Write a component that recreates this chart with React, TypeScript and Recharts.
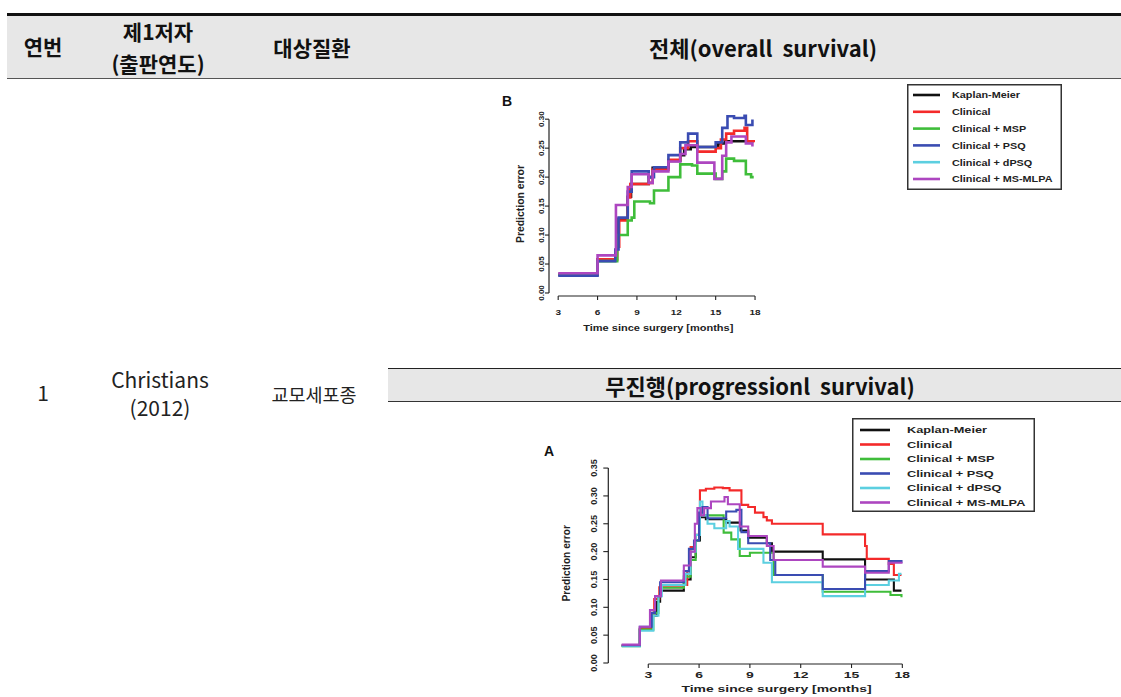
import { LineChart, Line, XAxis, YAxis, ReferenceLine } from 'recharts';

type Pt = [number, number];

// 전체 (overall survival), panel B — step curves [month, prediction error]
const osKaplanMeier: Pt[] = [[3.0, 0.032], [6.0, 0.058], [7.45, 0.08], [7.6, 0.128], [8.3, 0.166], [8.55, 0.188], [9.9, 0.2], [10.2, 0.216], [11.4, 0.228], [12.3, 0.238], [12.6, 0.248], [13.1, 0.252], [15.2, 0.258], [15.7, 0.262], [17.9, 0.262]];
const osClinical: Pt[] = [[3.0, 0.032], [6.0, 0.058], [7.5, 0.08], [7.65, 0.125], [8.3, 0.165], [8.5, 0.188], [9.9, 0.19], [10.2, 0.213], [11.4, 0.23], [12.3, 0.25], [12.9, 0.262], [13.6, 0.244], [15.0, 0.25], [15.4, 0.265], [15.8, 0.275], [16.4, 0.28], [17.2, 0.285], [17.4, 0.262], [17.9, 0.26]];
const osMSP: Pt[] = [[3.0, 0.032], [6.0, 0.055], [7.5, 0.1], [8.3, 0.125], [8.6, 0.13], [8.8, 0.158], [10.0, 0.155], [10.3, 0.177], [11.4, 0.2], [12.3, 0.222], [13.2, 0.22], [13.6, 0.206], [15.0, 0.197], [15.5, 0.21], [15.8, 0.232], [16.4, 0.228], [17.3, 0.205], [17.7, 0.2], [17.9, 0.2]];
const osPSQ: Pt[] = [[3.0, 0.03], [6.0, 0.055], [7.35, 0.075], [7.6, 0.13], [8.3, 0.175], [8.6, 0.21], [9.9, 0.2], [10.3, 0.217], [11.4, 0.238], [12.3, 0.26], [12.9, 0.275], [13.6, 0.252], [15.0, 0.26], [15.5, 0.285], [15.9, 0.305], [16.4, 0.302], [17.2, 0.306], [17.3, 0.29], [17.8, 0.297], [17.9, 0.297]];
const osDPSQ: Pt[] = []; // hidden under the other curves in the figure
const osMSMLPA: Pt[] = [[3.0, 0.034], [6.0, 0.065], [7.4, 0.152], [8.3, 0.183], [8.6, 0.205], [9.9, 0.19], [10.2, 0.21], [11.4, 0.227], [12.3, 0.24], [12.7, 0.255], [13.6, 0.225], [14.9, 0.197], [15.5, 0.237], [15.8, 0.26], [16.2, 0.27], [17.3, 0.258], [17.8, 0.255], [17.9, 0.255]];

// 무진행 (progression survival), panel A
const pfsKaplanMeier: Pt[] = [[1.43, 0.031], [2.5, 0.06], [3.2, 0.085], [3.5, 0.11], [3.7, 0.13], [5.1, 0.15], [5.5, 0.19], [5.8, 0.22], [6.05, 0.262], [6.4, 0.258], [7.6, 0.252], [8.45, 0.238], [8.9, 0.225], [10.0, 0.215], [10.3, 0.2], [13.3, 0.186], [15.8, 0.15], [17.5, 0.13], [17.95, 0.13]];
const pfsClinical: Pt[] = [[1.43, 0.032], [2.5, 0.062], [3.15, 0.087], [3.35, 0.115], [3.65, 0.136], [5.1, 0.14], [5.3, 0.165], [5.5, 0.208], [5.8, 0.23], [6.05, 0.31], [6.4, 0.313], [6.9, 0.315], [7.4, 0.314], [7.8, 0.31], [8.5, 0.284], [8.9, 0.28], [9.3, 0.27], [9.8, 0.262], [10.0, 0.256], [10.3, 0.25], [13.3, 0.231], [15.8, 0.21], [15.9, 0.187], [17.2, 0.178], [17.5, 0.158], [17.95, 0.158]];
const pfsMSP: Pt[] = [[1.43, 0.03], [2.5, 0.06], [3.3, 0.09], [3.6, 0.12], [3.75, 0.135], [5.1, 0.155], [5.5, 0.185], [5.8, 0.22], [6.0, 0.265], [6.4, 0.265], [7.45, 0.234], [7.9, 0.222], [8.4, 0.192], [9.0, 0.198], [10.4, 0.158], [13.3, 0.128], [17.3, 0.122], [17.95, 0.118]];
const pfsPSQ: Pt[] = [[1.43, 0.032], [2.5, 0.065], [3.2, 0.09], [3.4, 0.12], [3.7, 0.145], [5.1, 0.165], [5.4, 0.205], [5.7, 0.22], [6.0, 0.27], [6.2, 0.28], [6.5, 0.26], [7.6, 0.272], [8.2, 0.275], [8.5, 0.235], [8.9, 0.215], [9.8, 0.215], [10.2, 0.185], [10.5, 0.158], [13.3, 0.133], [15.8, 0.165], [17.2, 0.183], [17.95, 0.18]];
const pfsDPSQ: Pt[] = [[1.43, 0.03], [2.5, 0.058], [3.3, 0.085], [3.6, 0.12], [3.8, 0.14], [5.2, 0.16], [5.5, 0.2], [5.8, 0.23], [6.05, 0.29], [6.2, 0.265], [6.5, 0.25], [6.9, 0.242], [7.6, 0.255], [7.8, 0.245], [8.3, 0.205], [8.6, 0.205], [9.8, 0.18], [10.3, 0.145], [13.3, 0.12], [15.8, 0.14], [17.2, 0.148], [17.8, 0.16], [17.95, 0.16]];
const pfsMSMLPA: Pt[] = [[1.43, 0.033], [2.5, 0.065], [3.1, 0.095], [3.4, 0.12], [3.75, 0.148], [5.1, 0.175], [5.5, 0.2], [5.75, 0.25], [5.9, 0.278], [6.1, 0.265], [6.3, 0.278], [6.7, 0.29], [7.5, 0.298], [7.7, 0.285], [8.4, 0.245], [8.9, 0.228], [10.0, 0.21], [10.4, 0.185], [13.3, 0.173], [15.8, 0.162], [17.2, 0.18], [17.95, 0.178]];

const seriesNames = ['Kaplan-Meier', 'Clinical', 'Clinical + MSP', 'Clinical + PSQ', 'Clinical + dPSQ', 'Clinical + MS-MLPA'];
const seriesColors = ['#111111', '#f42a2a', '#3fbd3a', '#3a4cb2', '#5ccfe0', '#ad46c0'];
const monthTicks = [3, 6, 9, 12, 15, 18];
const osErrorTicks = [0, 0.05, 0.1, 0.15, 0.2, 0.25, 0.3];
const pfsErrorTicks = [0, 0.05, 0.1, 0.15, 0.2, 0.25, 0.3, 0.35];

const osCurves = [osKaplanMeier, osClinical, osMSP, osDPSQ, osPSQ, osMSMLPA];
const pfsCurves = [pfsKaplanMeier, pfsClinical, pfsMSP, pfsDPSQ, pfsPSQ, pfsMSMLPA];
const curveSeries = [0, 1, 2, 4, 3, 5]; // index into names/colors, in drawing order

const FONT = '"Liberation Sans", Arial, sans-serif';
const KFONT = '"Noto Sans CJK KR", "Noto Sans", sans-serif';

const rows = (pts: Pt[]) => pts.map(([month, error]) => ({ month, error }));

const osPanel = {
  left: 462, top: 88, width: 318, height: 262,
  margin: { top: 24, right: 18.4, bottom: 17, left: 29 },
  yAxisWidth: 58, xAxisHeight: 37,
  xDomain: [2.3, 18.5], yDomain: [-0.0052, 0.3124], yTicks: osErrorTicks,
  xTickSize: 4, xTickMargin: 9, yTickSize: 4, yTickMargin: 1,
  sx: 1.25, tickFont: 8, titleFont: 8.8, yTitleFont: 10.4, xTitleDx: 3, yTitleGap: 25,
  strokeWidth: 2.6,
};

const pfsPanel = {
  left: 520, top: 440, width: 410, height: 257,
  margin: { top: 22.5, right: 19.2, bottom: 3, left: 5.3 },
  yAxisWidth: 83, xAxisHeight: 30,
  xDomain: [0.64, 18.5], yDomain: [-0.0018, 0.36], yTicks: pfsErrorTicks,
  xTickSize: 4, xTickMargin: 4, yTickSize: 5, yTickMargin: 6,
  sx: 1.55, tickFont: 9, titleFont: 9, yTitleFont: 10.2, xTitleDx: 17, yTitleGap: 38,
  strokeWidth: 2.1,
};

type PanelCfg = typeof osPanel;

function SurvivalPanel({ curves, cfg }: { curves: Pt[][]; cfg: PanelCfg }) {
  const plotLeft = cfg.margin.left + cfg.yAxisWidth;
  const plotRight = cfg.width - cfg.margin.right;
  const plotTop = cfg.margin.top;
  const plotBottom = cfg.height - cfg.margin.bottom - cfg.xAxisHeight;
  const topTick = cfg.yTicks[cfg.yTicks.length - 1];

  const xTick = (p: any) => (
    <g transform={`translate(${p.x},${p.y}) scale(${cfg.sx},1)`}>
      <text textAnchor="middle" dy="0.71em" fontSize={cfg.tickFont} fontWeight="bold" fill="#222" fontFamily={FONT}>
        {p.payload.value}
      </text>
    </g>
  );
  const yTick = (p: any) => (
    <text x={p.x} y={p.y} transform={`rotate(-90 ${p.x} ${p.y})`} textAnchor="middle" fontSize={cfg.tickFont} fontWeight="bold" fill="#222" fontFamily={FONT}>
      {Number(p.payload.value).toFixed(2)}
    </text>
  );
  const xTitle = () => (
    <g transform={`translate(${(plotLeft + plotRight) / 2 + cfg.xTitleDx},${plotBottom + cfg.xAxisHeight - 2}) scale(${cfg.sx},1)`}>
      <text textAnchor="middle" fontSize={cfg.titleFont} fontWeight="bold" fill="#222" fontFamily={FONT}>
        Time since surgery [months]
      </text>
    </g>
  );
  const yTitle = () => {
    const bx = plotLeft - cfg.yTitleGap;
    const by = (plotTop + plotBottom) / 2;
    return (
      <text x={bx} y={by} transform={`rotate(-90 ${bx} ${by})`} textAnchor="middle" fontSize={cfg.yTitleFont} fontWeight="bold" fill="#222" fontFamily={FONT}>
        Prediction error
      </text>
    );
  };

  return (
    <div style={{ position: 'absolute', left: cfg.left, top: cfg.top }}>
      <LineChart width={cfg.width} height={cfg.height} margin={cfg.margin}>
        <XAxis
          type="number"
          dataKey="month"
          domain={cfg.xDomain}
          ticks={monthTicks}
          interval={0}
          allowDataOverflow
          axisLine={false}
          height={cfg.xAxisHeight}
          tickSize={cfg.xTickSize}
          tickMargin={cfg.xTickMargin}
          tickLine={{ stroke: '#222', strokeWidth: 1.1 }}
          tick={xTick}
          label={xTitle}
        />
        <YAxis
          type="number"
          dataKey="error"
          domain={cfg.yDomain}
          ticks={cfg.yTicks}
          interval={0}
          allowDataOverflow
          axisLine={false}
          width={cfg.yAxisWidth}
          tickSize={cfg.yTickSize}
          tickMargin={cfg.yTickMargin}
          tickLine={{ stroke: '#222', strokeWidth: 1.1 }}
          tick={yTick}
          label={yTitle}
        />
        <ReferenceLine
          segment={[{ x: 3, y: cfg.yDomain[0] }, { x: 18, y: cfg.yDomain[0] }]}
          stroke="#222"
          strokeWidth={1.2}
          ifOverflow="visible"
        />
        <ReferenceLine
          segment={[{ x: cfg.xDomain[0], y: 0 }, { x: cfg.xDomain[0], y: topTick }]}
          stroke="#222"
          strokeWidth={1.2}
          ifOverflow="visible"
        />
        {curves.map((pts, i) =>
          pts.length ? (
            <Line
              key={seriesNames[curveSeries[i]]}
              data={rows(pts)}
              dataKey="error"
              name={seriesNames[curveSeries[i]]}
              type="stepAfter"
              stroke={seriesColors[curveSeries[i]]}
              strokeWidth={cfg.strokeWidth}
              dot={false}
              activeDot={false}
              isAnimationActive={false}
            />
          ) : null
        )}
      </LineChart>
    </div>
  );
}

function LegendBox({ left, top, width, height, firstRow, rowGap, lineX1, lineX2, textX, fontSize, sx }: any) {
  return (
    <svg style={{ position: 'absolute', left, top }} width={width} height={height}>
      <rect x={0.75} y={0.75} width={width - 1.5} height={height - 1.5} fill="#fff" stroke="#333" strokeWidth={1.5} />
      {seriesNames.map((name, i) => {
        const cy = firstRow + i * rowGap;
        return (
          <g key={name}>
            <line x1={lineX1} x2={lineX2} y1={cy} y2={cy} stroke={seriesColors[i]} strokeWidth={2.6} />
            <g transform={`translate(${textX},${cy + fontSize * 0.36}) scale(${sx},1)`}>
              <text fontSize={fontSize} fontWeight="bold" fill="#222" fontFamily={FONT}>{name}</text>
            </g>
          </g>
        );
      })}
    </svg>
  );
}

const at = (cx: number, cy: number, extra: any = {}) => ({
  position: 'absolute' as const,
  left: cx,
  top: cy,
  transform: 'translate(-50%, -50%)',
  whiteSpace: 'nowrap' as const,
  lineHeight: 1,
  ...extra,
});

export default function App() {
  const head = { fontWeight: 700, fontSize: 21, color: '#111' };
  return (
    <div style={{ position: 'relative', width: 1121, height: 697, background: '#fff', overflow: 'hidden', fontFamily: KFONT }}>
      <style>{'body{margin:0}'}</style>

      {/* 표 머리 */}
      <div style={{ position: 'absolute', left: 7, top: 15.5, width: 1114, height: 63, background: '#e7e7e7' }} />
      <div style={{ position: 'absolute', left: 7, top: 12.5, width: 1114, height: 3, background: '#111' }} />
      <div style={{ position: 'absolute', left: 7, top: 78, width: 1114, height: 1.2, background: '#555' }} />
      <div style={at(43, 46, head)}>연번</div>
      <div style={at(158, 31, head)}>제1저자</div>
      <div style={at(158, 63, head)}>(출판연도)</div>
      <div style={at(312, 47, head)}>대상질환</div>
      <div style={at(763, 47, { ...head, fontSize: 22 })}>전체(overall&nbsp;&nbsp;survival)</div>

      {/* 본문 */}
      <div style={at(43, 392, { fontSize: 21, color: '#222' })}>1</div>
      <div style={at(160, 379, { fontSize: 21, color: '#222' })}>Christians</div>
      <div style={at(160, 407, { fontSize: 21, color: '#222' })}>(2012)</div>
      <div style={at(314, 394, { fontSize: 18.5, color: '#222' })}>교모세포종</div>

      <div style={{ position: 'absolute', left: 388, top: 369, width: 733, height: 32, background: '#e7e7e7' }} />
      <div style={{ position: 'absolute', left: 388, top: 367.5, width: 733, height: 1.6, background: '#222' }} />
      <div style={{ position: 'absolute', left: 388, top: 401, width: 733, height: 1.2, background: '#333' }} />
      <div style={at(760, 385, { ...head, fontSize: 22 })}>무진행(progressionl&nbsp;&nbsp;survival)</div>

      {/* B: overall survival */}
      <div style={at(507, 101, { fontFamily: FONT, fontWeight: 700, fontSize: 14, color: '#111' })}>B</div>
      <SurvivalPanel curves={osCurves} cfg={osPanel} />
      <LegendBox left={907} top={84} width={155} height={106} firstRow={11} rowGap={16.8} lineX1={6} lineX2={33} textX={45} fontSize={9.5} sx={1.14} />

      {/* A: progression survival */}
      <div style={at(549, 451, { fontFamily: FONT, fontWeight: 700, fontSize: 14, color: '#111' })}>A</div>
      <SurvivalPanel curves={pfsCurves} cfg={pfsPanel} />
      <LegendBox left={852} top={418} width={183} height={94} firstRow={12} rowGap={14.5} lineX1={8} lineX2={38} textX={55} fontSize={8.5} sx={1.5} />
    </div>
  );
}
